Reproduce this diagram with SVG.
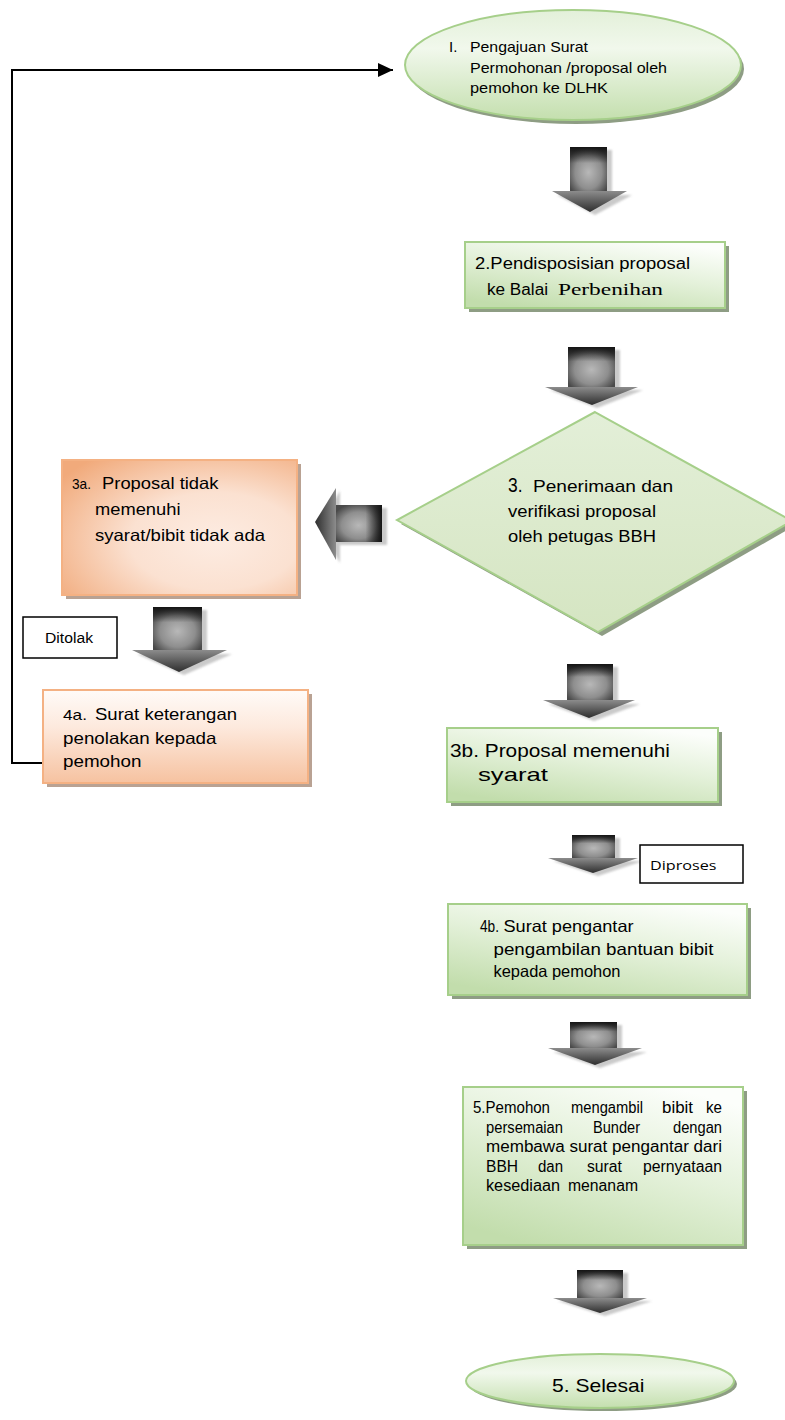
<svg xmlns="http://www.w3.org/2000/svg" width="785" height="1420" viewBox="0 0 785 1420">
  <style>
    text { font-family: "Liberation Sans", Arial, sans-serif; fill: #000; }
    .serif { font-family: "Liberation Serif", "Times New Roman", serif; }
    .calibri { font-family: "Open Sans", "Liberation Sans", sans-serif; }
    .gbox { fill: url(#greenFill); stroke: #a6cf8a; stroke-width: 2; }
    .gshadow { fill: #8e9d84; }
    .oshadow { fill: #b9a293; }
    .label { fill: #fff; stroke: #000; stroke-width: 1.5; }
    .link { fill: none; stroke: #000; stroke-width: 2; }
    .shaft { fill: url(#shaftFill); }
    .shaftTop { fill: url(#shaftTopDark); }
    .head { fill: url(#headFill); }
    .ashadow { fill: #bdbdbd; opacity: 0.8; filter: url(#soft); }
  </style>
  <defs>
    <linearGradient id="greenFill" x1="0.75" y1="0" x2="0.25" y2="1">
      <stop offset="0" stop-color="#fcfefb"/>
      <stop offset="0.45" stop-color="#e4f1da"/>
      <stop offset="1" stop-color="#c2ddac"/>
    </linearGradient>
    <linearGradient id="ellipseFill" x1="0" y1="0" x2="0" y2="1">
      <stop offset="0" stop-color="#e3f0d9"/>
      <stop offset="0.35" stop-color="#f1f8ec"/>
      <stop offset="1" stop-color="#c4dfae"/>
    </linearGradient>
    <linearGradient id="diamondFill" x1="0" y1="0" x2="0" y2="1">
      <stop offset="0" stop-color="#e3efd8"/>
      <stop offset="1" stop-color="#d5e5c2"/>
    </linearGradient>
    <radialGradient id="orangeRadial" cx="0.65" cy="0.6" r="0.8">
      <stop offset="0" stop-color="#fdece2"/>
      <stop offset="0.45" stop-color="#fbe1d1"/>
      <stop offset="1" stop-color="#f1aa7b"/>
    </radialGradient>
    <linearGradient id="orangeFade" x1="0" y1="0" x2="0" y2="1">
      <stop offset="0" stop-color="#fffbf8"/>
      <stop offset="0.4" stop-color="#fde9dd"/>
      <stop offset="1" stop-color="#f6c2a0"/>
    </linearGradient>
    <radialGradient id="shaftFill" cx="0.5" cy="0.55" r="0.6">
      <stop offset="0" stop-color="#b8b8b8"/>
      <stop offset="0.6" stop-color="#8e8e8e"/>
      <stop offset="1" stop-color="#4a4a4a"/>
    </radialGradient>
    <linearGradient id="shaftTopDark" x1="0" y1="0" x2="0" y2="1">
      <stop offset="0" stop-color="#111" stop-opacity="0.95"/>
      <stop offset="0.35" stop-color="#111" stop-opacity="0"/>
    </linearGradient>
    <linearGradient id="shaftRightDark" x1="1" y1="0" x2="0" y2="0">
      <stop offset="0" stop-color="#111" stop-opacity="0.95"/>
      <stop offset="0.35" stop-color="#111" stop-opacity="0"/>
    </linearGradient>
    <linearGradient id="headFill" x1="0" y1="0" x2="0" y2="1">
      <stop offset="0" stop-color="#8c8c8c"/>
      <stop offset="1" stop-color="#2e2e2e"/>
    </linearGradient>
    <linearGradient id="headFillH" x1="1" y1="0" x2="0" y2="0">
      <stop offset="0" stop-color="#8c8c8c"/>
      <stop offset="1" stop-color="#2e2e2e"/>
    </linearGradient>
    <filter id="soft" x="-20%" y="-20%" width="140%" height="140%">
      <feGaussianBlur stdDeviation="0.8"/>
    </filter>
    <marker id="arrowEnd" markerUnits="userSpaceOnUse" markerWidth="16" markerHeight="14" refX="15" refY="7" orient="auto">
      <path d="M0,0 L15,7 L0,14 z" fill="#000"/>
    </marker>
  </defs>

  <!-- flow connectors: return line and grey block arrows -->
  <g id="connectors">
    <path class="link" d="M43 763 H12 V70 H393" marker-end="url(#arrowEnd)"/>

    <!-- 1 -> 2 -->
    <g id="arrow-1-2">
      <path class="ashadow" d="M575 150 h37 v45 h20 l-37 20 l-38 -20 h18 z"/>
      <rect class="shaft" x="570" y="147" width="37" height="46"/>
      <rect class="shaftTop" x="570" y="147" width="37" height="46"/>
      <path class="head" d="M552 191 H627 L590 212 Z"/>
    </g>
    <!-- 2 -> 3 -->
    <g id="arrow-2-3">
      <path class="ashadow" d="M573 350 h47 v40 h23 l-46 18 l-47 -18 h23 z"/>
      <rect class="shaft" x="568" y="347" width="47" height="41"/>
      <rect class="shaftTop" x="568" y="347" width="47" height="41"/>
      <path class="head" d="M545 387 H638 L592 405 Z"/>
    </g>
    <!-- 3 -> 3a -->
    <g id="arrow-3-3a">
      <path class="ashadow" d="M387 508 v37 h-47 v18 l-21 -38 l21 -34 v17 z"/>
      <rect class="shaft" x="335" y="505" width="47" height="37"/>
      <rect x="335" y="505" width="47" height="37" fill="url(#shaftRightDark)"/>
      <path d="M336 488 V560 L315 522 Z" fill="url(#headFillH)"/>
    </g>
    <!-- 3a -> 4a -->
    <g id="arrow-3a-4a">
      <path class="ashadow" d="M158 610 h49 v44 h25 l-48 21 l-47 -21 h21 z"/>
      <rect class="shaft" x="153" y="607" width="49" height="44"/>
      <rect class="shaftTop" x="153" y="607" width="49" height="44"/>
      <path class="head" d="M132 650 H227 L179 672 Z"/>
    </g>
    <!-- 3 -> 3b -->
    <g id="arrow-3-3b">
      <path class="ashadow" d="M572 667 h46 v37 h22 l-46 17 l-46 -17 h24 z"/>
      <rect class="shaft" x="567" y="664" width="46" height="37"/>
      <rect class="shaftTop" x="567" y="664" width="46" height="37"/>
      <path class="head" d="M543 700 H635 L589 718 Z"/>
    </g>
    <!-- 3b -> 4b -->
    <g id="arrow-3b-4b">
      <path class="ashadow" d="M577 838 h43 v23 h23 l-45 15 l-45 -15 h24 z"/>
      <rect class="shaft" x="572" y="835" width="43" height="24"/>
      <rect class="shaftTop" x="572" y="835" width="43" height="24"/>
      <path class="head" d="M548 858 H638 L593 873 Z"/>
    </g>
    <!-- 4b -> 5 -->
    <g id="arrow-4b-5">
      <path class="ashadow" d="M575 1025 h47 v27 h25 l-47 16 l-47 -16 h22 z"/>
      <rect class="shaft" x="570" y="1022" width="47" height="27"/>
      <rect class="shaftTop" x="570" y="1022" width="47" height="27"/>
      <path class="head" d="M548 1048 H642 L595 1065 Z"/>
    </g>
    <!-- 5 -> end -->
    <g id="arrow-5-end">
      <path class="ashadow" d="M582 1273 h46 v28 h24 l-47 15 l-47 -15 h24 z"/>
      <rect class="shaft" x="577" y="1270" width="46" height="29"/>
      <rect class="shaftTop" x="577" y="1270" width="46" height="29"/>
      <path class="head" d="M553 1298 H647 L600 1313 Z"/>
    </g>
  </g>

  <!-- 1. submission -->
  <g id="node-1">
    <ellipse cx="576" cy="69" rx="168" ry="55" class="gshadow"/>
    <ellipse cx="573" cy="65" rx="168" ry="55" fill="url(#ellipseFill)" stroke="#a6cf8a" stroke-width="2"/>
    <text x="449" y="52" font-size="15">I.</text>
    <text x="470" y="52" font-size="15" textLength="118" lengthAdjust="spacingAndGlyphs">Pengajuan Surat</text>
    <text x="470" y="72.5" font-size="15" textLength="197" lengthAdjust="spacingAndGlyphs">Permohonan /proposal oleh</text>
    <text x="470" y="92.5" font-size="15" textLength="138" lengthAdjust="spacingAndGlyphs">pemohon  ke DLHK</text>
  </g>

  <!-- 2. disposition -->
  <g id="node-2">
    <rect x="469" y="246" width="260" height="66" class="gshadow"/>
    <rect x="465" y="242" width="260" height="66" class="gbox"/>
    <text x="475" y="269" font-size="16" textLength="215" lengthAdjust="spacingAndGlyphs">2.Pendisposisian proposal</text>
    <text x="487" y="295" font-size="16" textLength="61" lengthAdjust="spacingAndGlyphs">ke Balai</text>
    <text x="558" y="295" font-size="17" class="serif" textLength="105" lengthAdjust="spacingAndGlyphs">Perbenihan</text>
  </g>

  <!-- 3. verification decision -->
  <g id="node-3">
    <polygon points="599,416 796,525 602,636 401,524" class="gshadow"/>
    <polygon points="595,412 792,521 598,632 397,520" fill="url(#diamondFill)" stroke="#a6cf8a" stroke-width="2"/>
    <text x="508" y="492" font-size="20" textLength="14.5" lengthAdjust="spacingAndGlyphs">3.</text>
    <text x="533" y="492" font-size="16.5" textLength="140" lengthAdjust="spacingAndGlyphs">Penerimaan  dan</text>
    <text x="508" y="517" font-size="16.5" textLength="148" lengthAdjust="spacingAndGlyphs">verifikasi proposal</text>
    <text x="508" y="542" font-size="16.5" textLength="148" lengthAdjust="spacingAndGlyphs">oleh petugas BBH</text>
  </g>

  <!-- 3a. rejected proposal -->
  <g id="node-3a">
    <rect x="66" y="464" width="235" height="135" class="oshadow"/>
    <rect x="62" y="460" width="235" height="135" fill="url(#orangeRadial)" stroke="#f4b183" stroke-width="2"/>
    <text x="72" y="489" font-size="15" textLength="19" lengthAdjust="spacingAndGlyphs">3a.</text>
    <text x="102" y="489" font-size="16.5" textLength="116.5" lengthAdjust="spacingAndGlyphs">Proposal tidak</text>
    <text x="95" y="515" font-size="16.5" textLength="85.5" lengthAdjust="spacingAndGlyphs">memenuhi</text>
    <text x="95" y="540.5" font-size="16.5" textLength="170" lengthAdjust="spacingAndGlyphs">syarat/bibit tidak ada</text>
  </g>

  <g id="label-ditolak">
    <rect x="23" y="617" width="94" height="41" class="label"/>
    <text x="45" y="643" font-size="14" textLength="48" lengthAdjust="spacingAndGlyphs">Ditolak</text>
  </g>

  <!-- 4a. rejection letter -->
  <g id="node-4a">
    <rect x="47" y="694" width="265" height="93" class="oshadow"/>
    <rect x="43" y="690" width="265" height="93" fill="url(#orangeFade)" stroke="#f4b183" stroke-width="2"/>
    <text x="63" y="720" font-size="15" textLength="24" lengthAdjust="spacingAndGlyphs">4a.</text>
    <text x="95" y="720" font-size="16.5" textLength="142" lengthAdjust="spacingAndGlyphs">Surat keterangan</text>
    <text x="63" y="744" font-size="16.5" textLength="153.5" lengthAdjust="spacingAndGlyphs">penolakan kepada</text>
    <text x="63" y="767" font-size="16.5" textLength="78.5" lengthAdjust="spacingAndGlyphs">pemohon</text>
  </g>

  <!-- 3b. accepted proposal -->
  <g id="node-3b">
    <rect x="451" y="732" width="271" height="74" class="gshadow"/>
    <rect x="447" y="728" width="271" height="74" class="gbox"/>
    <text x="450" y="757" font-size="19" textLength="220" lengthAdjust="spacingAndGlyphs">3b. Proposal memenuhi</text>
    <text x="478" y="781" font-size="19" textLength="70" lengthAdjust="spacingAndGlyphs">syarat</text>
  </g>

  <g id="label-diproses">
    <rect x="640" y="845" width="103" height="38" class="label"/>
    <text x="650" y="870" font-size="13" class="calibri" textLength="66.5" lengthAdjust="spacingAndGlyphs">Diproses</text>
  </g>

  <!-- 4b. cover letter -->
  <g id="node-4b">
    <rect x="452" y="908" width="299" height="91" class="gshadow"/>
    <rect x="448" y="904" width="299" height="91" class="gbox"/>
    <text x="480" y="931.5" font-size="16.5" textLength="19" lengthAdjust="spacingAndGlyphs">4b.</text>
    <text x="503.5" y="931.5" font-size="16.5" textLength="130" lengthAdjust="spacingAndGlyphs">Surat pengantar</text>
    <text x="493.5" y="955" font-size="16.5" textLength="220" lengthAdjust="spacingAndGlyphs">pengambilan bantuan bibit</text>
    <text x="493.5" y="977" font-size="16.5" textLength="127" lengthAdjust="spacingAndGlyphs">kepada pemohon</text>
  </g>

  <!-- 5. seedling pickup -->
  <g id="node-5">
    <rect x="467" y="1091" width="280" height="158" class="gshadow"/>
    <rect x="463" y="1087" width="280" height="158" class="gbox"/>
    <g font-size="16">
      <text y="1113"><tspan x="473" textLength="77" lengthAdjust="spacingAndGlyphs">5.Pemohon</tspan><tspan x="571" textLength="72" lengthAdjust="spacingAndGlyphs">mengambil</tspan><tspan x="662" textLength="31" lengthAdjust="spacingAndGlyphs">bibit</tspan><tspan x="706" textLength="16" lengthAdjust="spacingAndGlyphs">ke</tspan></text>
      <text y="1132.5"><tspan x="486" textLength="77" lengthAdjust="spacingAndGlyphs">persemaian</tspan><tspan x="593" textLength="47" lengthAdjust="spacingAndGlyphs">Bunder</tspan><tspan x="673" textLength="49" lengthAdjust="spacingAndGlyphs">dengan</tspan></text>
      <text x="486" y="1152" textLength="236" lengthAdjust="spacingAndGlyphs">membawa surat pengantar dari</text>
      <text y="1171.5"><tspan x="486" textLength="32" lengthAdjust="spacingAndGlyphs">BBH</tspan><tspan x="538" textLength="25" lengthAdjust="spacingAndGlyphs">dan</tspan><tspan x="587" textLength="35" lengthAdjust="spacingAndGlyphs">surat</tspan><tspan x="643" textLength="79" lengthAdjust="spacingAndGlyphs">pernyataan</tspan></text>
      <text y="1191"><tspan x="486" textLength="74" lengthAdjust="spacingAndGlyphs">kesediaan</tspan><tspan x="568" textLength="70" lengthAdjust="spacingAndGlyphs">menanam</tspan></text>
    </g>
  </g>

  <!-- end -->
  <g id="node-end">
    <ellipse cx="603" cy="1384" rx="134" ry="27" class="gshadow"/>
    <ellipse cx="600" cy="1381" rx="134" ry="27" fill="url(#ellipseFill)" stroke="#a6cf8a" stroke-width="2"/>
    <text x="552" y="1392" font-size="19" textLength="92.5" lengthAdjust="spacingAndGlyphs">5. Selesai</text>
  </g>
</svg>
